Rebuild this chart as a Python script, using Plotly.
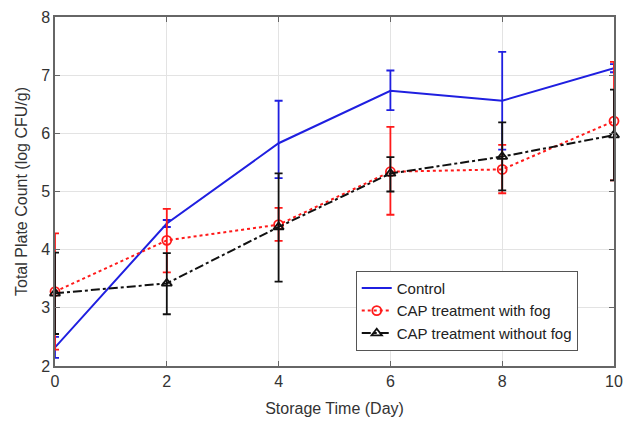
import plotly.graph_objects as go

days = [0, 2, 4, 6, 8, 10]

control = [2.32, 4.45, 5.83, 6.73, 6.56, 7.12]
control_err_up = [0.18, 0.06, 0.73, 0.35, 0.84, 0.07]
control_err_dn = [0.18, 0.06, 0.60, 0.33, 0.84, 0.07]

fog = [3.28, 4.16, 4.43, 5.34, 5.38, 6.21]
fog_err_up = [1.00, 0.54, 0.29, 0.77, 0.42, 1.02]
fog_err_dn = [1.00, 0.55, 0.28, 0.74, 0.41, 1.02]

nofog = [3.25, 3.42, 4.39, 5.31, 5.60, 5.97]
nofog_err_up = [0.70, 0.52, 0.92, 0.28, 0.59, 0.78]
nofog_err_dn = [0.70, 0.53, 0.94, 0.31, 0.58, 0.78]

x_ticks = [0, 2, 4, 6, 8, 10]
y_ticks = [2, 3, 4, 5, 6, 7, 8]

fig = go.Figure()

fig.add_trace(go.Scatter(
    x=days, y=control, name="Control", mode="lines", cliponaxis=False,
    line=dict(color="#1f1fe0", width=2),
    error_y=dict(type="data", symmetric=False, array=control_err_up,
                 arrayminus=control_err_dn, color="#1f1fe0", thickness=1.8, width=4),
))
fig.add_trace(go.Scatter(
    x=days, y=fog, name="CAP treatment with fog", mode="lines+markers", cliponaxis=False,
    line=dict(color="#ff1a1a", width=2, dash="dot"),
    marker=dict(symbol="circle-open", size=9, color="#ff1a1a", line=dict(width=1.8)),
    error_y=dict(type="data", symmetric=False, array=fog_err_up,
                 arrayminus=fog_err_dn, color="#ff1a1a", thickness=1.8, width=4),
))
fig.add_trace(go.Scatter(
    x=days, y=nofog, name="CAP treatment without fog", mode="lines+markers", cliponaxis=False,
    line=dict(color="#111111", width=2, dash="dashdot"),
    marker=dict(symbol="triangle-up-open", size=9, color="#111111", line=dict(width=1.8)),
    error_y=dict(type="data", symmetric=False, array=nofog_err_up,
                 arrayminus=nofog_err_dn, color="#111111", thickness=1.8, width=4),
))

axis_common = dict(
    showline=True, linecolor="#666666", linewidth=1.5, mirror="ticks",
    ticks="inside", ticklen=5, tickcolor="#666666", automargin=False,
    showgrid=True, gridcolor="#e3e3e3", gridwidth=1, zeroline=False,
    tickfont=dict(family="Liberation Sans, Arial, sans-serif", size=16, color="#333333"),
    title_font=dict(family="Liberation Sans, Arial, sans-serif", size=16, color="#333333"),
)

fig.update_xaxes(range=[0, 10], tickvals=x_ticks, title_text="Storage Time (Day)",
                 title_standoff=14, **axis_common)
fig.update_yaxes(range=[2, 8], tickvals=y_ticks, title_text="Total Plate Count (log CFU/g)",
                 title_standoff=10, **axis_common)

fig.update_layout(
    width=632, height=421,
    margin=dict(l=55, r=18, t=17, b=55),
    paper_bgcolor="white", plot_bgcolor="white",
    showlegend=True,
    legend=dict(x=0.538, y=0.158, xanchor="left", yanchor="middle",
                bgcolor="white", bordercolor="#555555", borderwidth=1,
                font=dict(family="Liberation Sans, Arial, sans-serif", size=15, color="#222222"),
                tracegroupgap=0, itemwidth=30),
)

fig.write_html("out.html")
